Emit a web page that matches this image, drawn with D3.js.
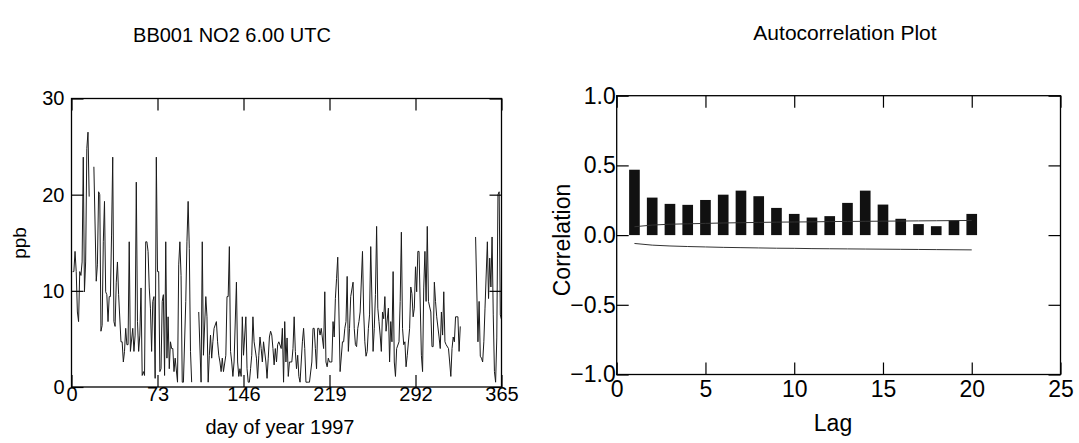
<!DOCTYPE html>
<html>
<head>
<meta charset="utf-8">
<script src="https://cdn.jsdelivr.net/npm/d3@7"></script>
<style>
  body { margin: 0; background: #fff; }
  svg text { font-family: "Liberation Sans", Arial, sans-serif; fill: #000; }
</style>
</head>
<body>
<svg id="chart" width="1079" height="443"></svg>
<script>
// ---- time series: day of year / NO2 (ppb), null = missing data ----
const obsDay = [1,2,3,4,5,6,7,8,9,10,11,12,13,14,15,16,
  19,21,22,23,24,25,26,27,28,29,30,31,32,33,34,35,36,37,38,39,40,42,43,44,45,46,47,48,49,50,
  52,53,54,55,56,57,58,59,60,61,62,63,64,65,66,67,68,69,70,71,72,73,74,75,76,77,78,79,80,
  81,82,83,84,85,86,87,88,90,91,92,93,94,95,97,98,99,100,101,102,104,
  108,110,111,112,114,115,116,117,118,119,120,121,123,124,125,126,127,128,129,131,132,133,134,135,
  136,137,138,140,141,142,143,144,145,146,148,149,150,151,152,153,154,155,157,158,159,160,161,162,
  163,165,166,167,168,169,170,171,172,173,174,175,176,178,179,180,181,182,183,184,185,187,188,189,
  190,191,192,193,194,196,197,198,199,200,201,202,204,205,206,207,208,209,210,211,212,214,215,216,
  217,218,219,221,222,223,224,225,226,227,228,230,231,232,233,234,235,236,237,239,240,241,242,243,
  244,245,247,248,249,250,251,252,253,254,256,257,258,259,260,261,262,263,264,265,266,267,269,270,
  271,272,273,274,275,276,278,279,280,281,282,283,284,285,287,288,289,290,291,292,293,294,295,297,
  298,299,300,301,302,303,305,306,307,308,309,310,312,313,314,315,316,317,318,320,321,322,323,324,
  325,326,328,329,330,336,
  343,345,346,347,348,349,350,351,353,354,355,356,357,358,359,360,361,362,363,364,365];
const obsPpb = [12.0,12.0,14.1,12.0,7.8,6.8,12.0,11.6,13.0,23.9,9.9,13.0,24.8,26.5,19.8,null,
  22.9,11.0,12.7,20.3,20.0,5.8,6.4,15.1,19.3,9.9,9.6,6.8,9.4,9.4,15.8,23.9,6.8,6.3,10.9,13.0,9.6,4.7,4.7,2.6,3.7,6.1,4.4,4.4,15.1,3.7,
  6.1,3.7,5.4,21.3,6.8,3.7,5.4,10.3,1.2,1.6,1.2,15.1,15.1,14.1,10.3,8.2,3.7,8.9,9.4,0.9,23.9,12.0,12.0,1.6,1.9,8.9,9.6,1.2,15.1,
  3.0,7.3,1.9,4.7,4.0,4.0,1.6,3.0,0.5,12.7,15.1,11.6,0.5,0.5,8.9,15.1,19.3,14.4,3.7,0.5,null,
  7.8,0.5,15.1,3.3,9.4,7.3,0.5,3.3,5.4,3.0,4.7,6.1,6.8,4.7,3.3,2.6,1.6,3.0,1.6,3.3,9.4,9.4,14.6,3.7,
  2.6,1.1,2.6,10.9,2.6,1.1,1.9,1.1,7.3,3.3,7.3,1.9,0.5,0.5,1.9,3.3,7.3,4.7,3.0,0.9,3.3,5.2,4.0,2.6,
  4.7,2.6,0.9,3.0,5.2,5.8,5.4,4.0,2.3,4.0,2.6,4.4,4.7,4.0,6.1,0.5,6.8,2.6,5.1,1.1,2.6,2.6,4.0,7.3,
  3.7,1.9,3.3,1.1,0.5,4.7,6.1,4.0,0.5,0.5,0.5,0.5,2.6,6.1,6.1,4.0,1.9,6.1,6.1,5.4,6.1,4.0,9.9,2.6,
  2.1,3.0,2.6,2.6,6.8,5.2,9.2,11.3,13.5,7.8,1.6,4.7,4.7,6.1,6.8,11.5,3.7,6.1,9.4,10.9,6.1,4.4,4.2,6.1,
  6.8,7.8,14.1,7.8,4.7,3.2,3.7,6.1,7.5,14.6,3.7,6.1,9.6,16.7,8.2,6.8,5.4,3.7,7.8,7.1,9.4,5.8,8.2,2.6,
  6.8,4.7,12.0,2.6,1.1,4.0,4.7,8.9,16.1,6.1,4.4,4.7,2.1,3.3,6.1,10.4,9.7,7.3,8.2,12.5,9.9,14.1,14.1,3.3,
  1.6,10.3,14.1,8.9,16.7,8.9,7.8,4.2,4.2,10.9,8.9,7.3,5.2,4.0,7.8,5.4,9.9,4.7,4.4,4.0,2.6,1.1,4.0,5.2,
  4.7,7.3,7.3,3.7,6.3,null,
  15.6,4.7,8.9,3.2,3.0,2.6,4.7,8.2,15.1,9.2,13.4,10.4,15.6,7.5,1.6,0.5,5.1,20.0,20.3,7.5,7.0];

const dayTicks = [0, 73, 146, 219, 292, 365];
const ppbTicks = [0, 10, 20, 30];

// ---- autocorrelation ----
const lags = [1,2,3,4,5,6,7,8,9,10,11,12,13,14,15,16,17,18,19,20];
const acf = [0.469,0.269,0.224,0.217,0.252,0.290,0.319,0.279,0.195,0.152,
             0.126,0.136,0.231,0.319,0.219,0.117,0.079,0.064,0.105,0.152];
const upperBound = [0.060,0.072,0.078,0.081,0.084,0.087,0.089,0.091,0.093,0.094,
                    0.095,0.097,0.098,0.099,0.100,0.101,0.102,0.103,0.104,0.105];
const lowerBound = [-0.060,-0.072,-0.078,-0.082,-0.085,-0.088,-0.090,-0.092,-0.094,-0.095,
                    -0.097,-0.098,-0.099,-0.100,-0.101,-0.102,-0.103,-0.104,-0.105,-0.106];
const lagTicks = [0, 5, 10, 15, 20, 25];
const corrTicks = [-1.0, -0.5, 0.0, 0.5, 1.0];

const svg = d3.select("#chart");
const TICK = 12;

function frame(g, x, y, xt, yt, fmtY, fontSize, yLabelGap, xLabelGap) {
    const [xa, xb] = x.range();
    const [yb, ya] = y.range();

    g.append("g")
        .attr("transform", `translate(0,${yb})`)
        .call(d3.axisBottom(x).tickValues(xt).tickSize(-TICK).tickSizeOuter(0).tickPadding(xLabelGap))
        .call(a => a.select(".domain").remove())
        .selectAll("text").style("font-size", fontSize + "px")
        .style("font-family", '"Liberation Sans", Arial, sans-serif');

    g.append("g")
        .attr("transform", `translate(0,${ya})`)
        .call(d3.axisTop(x).tickValues(xt).tickSize(-TICK).tickSizeOuter(0).tickFormat(""))
        .call(a => a.select(".domain").remove());

    g.append("g")
        .attr("transform", `translate(${xa},0)`)
        .call(d3.axisLeft(y).tickValues(yt).tickSize(-TICK).tickSizeOuter(0)
            .tickPadding(yLabelGap).tickFormat(fmtY))
        .call(a => a.select(".domain").remove())
        .selectAll("text").style("font-size", fontSize + "px")
        .style("font-family", '"Liberation Sans", Arial, sans-serif');

    g.append("g")
        .attr("transform", `translate(${xb},0)`)
        .call(d3.axisRight(y).tickValues(yt).tickSize(-TICK).tickSizeOuter(0).tickFormat(""))
        .call(a => a.select(".domain").remove());

    g.selectAll(".tick line").attr("stroke", "#000").attr("stroke-width", 1.2);

    g.append("rect")
        .attr("x", xa).attr("y", ya)
        .attr("width", xb - xa).attr("height", yb - ya)
        .attr("fill", "none").attr("stroke", "#000").attr("stroke-width", 1.3);
}

// ================= left: time series =================
const left = svg.append("g");
const xDay = d3.scaleLinear().domain([0, 365]).range([71.5, 501.5]);
const yPpb = d3.scaleLinear().domain([0, 30]).range([387, 98.5]);

const series = obsDay.map((d, i) => ({ day: d, v: obsPpb[i] }));
left.append("path")
    .datum(series)
    .attr("fill", "none")
    .attr("stroke", "#1a1a1a")
    .attr("stroke-width", 1)
    .attr("d", d3.line()
        .defined(d => d.v !== null)
        .x(d => xDay(d.day))
        .y(d => yPpb(d.v)));

frame(left, xDay, yPpb, dayTicks, ppbTicks, d3.format("d"), 20, 7, 0);

left.append("text")
    .attr("x", 232).attr("y", 42)
    .attr("text-anchor", "middle")
    .style("font-size", "20px")
    .text("BB001 NO2 6.00 UTC");

left.append("text")
    .attr("x", 280).attr("y", 434)
    .attr("text-anchor", "middle")
    .style("font-size", "20px")
    .text("day of year 1997");

left.append("text")
    .attr("transform", "translate(26,243) rotate(-90)")
    .attr("text-anchor", "middle")
    .style("font-size", "19px")
    .text("ppb");

// ================= right: autocorrelation =================
const right = svg.append("g");
const xLag = d3.scaleLinear().domain([0, 25]).range([616.7, 1060.5]);
const yCor = d3.scaleLinear().domain([-1, 1]).range([374.5, 95.7]);
const barW = (xLag(1) - xLag(0)) * 0.6;

right.selectAll("rect.bar")
    .data(lags)
    .join("rect")
    .attr("class", "bar")
    .attr("x", (d) => xLag(d) - barW / 2)
    .attr("y", (d, i) => yCor(acf[i]))
    .attr("width", barW)
    .attr("height", (d, i) => yCor(0) - yCor(acf[i]))
    .attr("fill", "#111");

const bound = d3.line().x(d => xLag(d[0])).y(d => yCor(d[1]));
right.append("path")
    .datum(lags.map((l, i) => [l, upperBound[i]]))
    .attr("fill", "none").attr("stroke", "#333").attr("stroke-width", 1)
    .attr("d", bound);
right.append("path")
    .datum(lags.map((l, i) => [l, lowerBound[i]]))
    .attr("fill", "none").attr("stroke", "#333").attr("stroke-width", 1)
    .attr("d", bound);

frame(right, xLag, yCor, lagTicks, corrTicks, d3.format(".1f"), 23, 1, 6);

right.append("text")
    .attr("x", 845).attr("y", 40)
    .attr("text-anchor", "middle")
    .style("font-size", "21px")
    .text("Autocorrelation Plot");

right.append("text")
    .attr("x", 833).attr("y", 431)
    .attr("text-anchor", "middle")
    .style("font-size", "23px")
    .text("Lag");

right.append("text")
    .attr("transform", "translate(570,240) rotate(-90)")
    .attr("text-anchor", "middle")
    .style("font-size", "23px")
    .text("Correlation");
</script>
</body>
</html>
